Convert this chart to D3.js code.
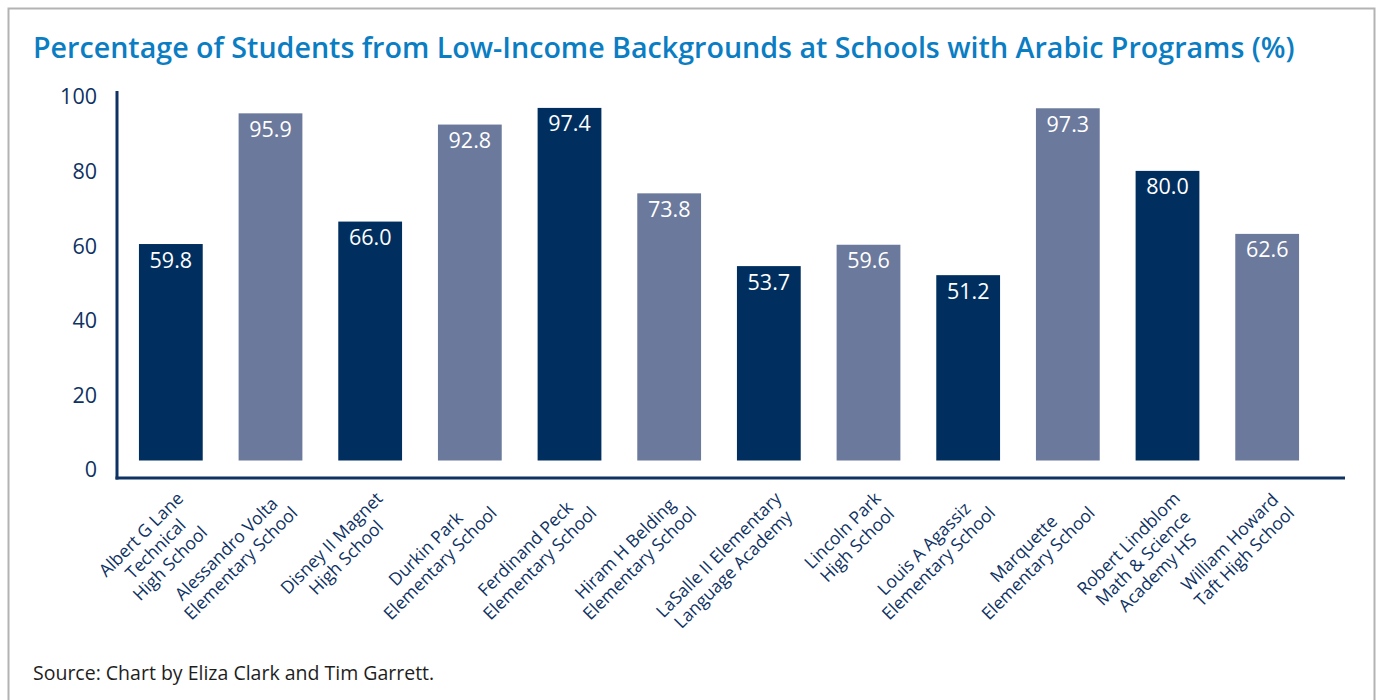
<!DOCTYPE html>
<html>
<head>
<meta charset="utf-8">
<script src="https://cdn.jsdelivr.net/npm/d3@7"></script>
<style>
  body { margin: 0; background: #fff; }
  svg { display: block; font-family: "Open Sans", "Noto Sans", sans-serif; }
</style>
</head>
<body>
<svg id="chart" width="1380" height="700"></svg>
<script>
// data
const schools = [
    ["Albert G Lane", "Technical", "High School"],
    ["Alessandro Volta", "Elementary School"],
    ["Disney II Magnet", "High School"],
    ["Durkin Park", "Elementary School"],
    ["Ferdinand Peck", "Elementary School"],
    ["Hiram H Belding", "Elementary School"],
    ["LaSalle II Elementary", "Language Academy"],
    ["Lincoln Park", "High School"],
    ["Louis A Agassiz", "Elementary School"],
    ["Marquette", "Elementary School"],
    ["Robert Lindblom", "Math & Science", "Academy HS"],
    ["William Howard", "Taft High School"]
];
const lowIncomePct = [59.8, 95.9, 66.0, 92.8, 97.4, 73.8, 53.7, 59.6, 51.2, 97.3, 80.0, 62.6];
const yTicks = [0, 20, 40, 60, 80, 100];

const titleText = "Percentage of Students from Low-Income Backgrounds at Schools with Arabic Programs (%)";
const sourceText = "Source: Chart by Eliza Clark and Tim Garrett.";

const navy = "#002f5f";
const slate = "#6b799c";
const axisColor = "#0e3263";

const svg = d3.select("#chart");

// frame
svg.append("rect")
    .attr("x", 8.5).attr("y", 8.5)
    .attr("width", 1366).attr("height", 720)
    .attr("fill", "none")
    .attr("stroke", "#b3b3b3")
    .attr("stroke-width", 2);

// title, fitted to the reference width
const title = svg.append("text")
    .attr("x", 33).attr("y", 58)
    .attr("fill", "#0a7dc3")
    .attr("font-size", 28)
    .attr("font-weight", 600)
    .text(titleText);
const tw = title.node().getComputedTextLength();
title.attr("font-size", 28 * 1262 / tw);

// scales
const ids = schools.map((d, i) => i);
const x = d3.scaleBand().domain(ids).range([121, 1317]).paddingInner(0.36).paddingOuter(0.18);
const y = d3.scaleLinear().domain([0, 100]).range([460.5, 98.5]);
const yLabel = d3.scaleLinear().domain([0, 100]).range([470, 97]);

// y tick labels
const yAxis = svg.append("g")
    .attr("transform", "translate(97,0)")
    .call(d3.axisLeft(yLabel).tickValues(yTicks).tickSize(0).tickPadding(0));
yAxis.select(".domain").remove();
yAxis.selectAll("text")
    .attr("font-family", "'Open Sans', sans-serif")
    .attr("font-size", 21.5)
    .attr("fill", axisColor);

// bars
svg.append("g")
    .selectAll("rect")
    .data(lowIncomePct)
    .join("rect")
    .attr("x", (d, i) => x(i))
    .attr("y", d => y(d))
    .attr("width", x.bandwidth())
    .attr("height", d => y(0) - y(d))
    .attr("fill", (d, i) => i % 2 === 0 ? navy : slate);

// value labels
svg.append("g")
    .selectAll("text")
    .data(lowIncomePct)
    .join("text")
    .attr("x", (d, i) => x(i) + x.bandwidth() / 2)
    .attr("y", d => y(d) + 23.5)
    .attr("text-anchor", "middle")
    .attr("fill", "#fff")
    .attr("font-size", 21.5)
    .text(d => d.toFixed(1));

// axis lines
svg.append("line")
    .attr("x1", 117).attr("x2", 117)
    .attr("y1", 91).attr("y2", 479.5)
    .attr("stroke", axisColor).attr("stroke-width", 3);
svg.append("line")
    .attr("x1", 115.5).attr("x2", 1345)
    .attr("y1", 478).attr("y2", 478)
    .attr("stroke", axisColor).attr("stroke-width", 3);

// x labels: rotated, lines centred, block's top-right at the tick
const lineH = 20.5;
const xl = svg.append("g")
    .selectAll("g")
    .data(schools)
    .join("g")
    .attr("transform", (d, i) => `translate(${x(i) + x.bandwidth() / 2 + 3},489) rotate(-45)`);

xl.each(function(lines) {
    const g = d3.select(this);
    const texts = lines.map((t, k) => g.append("text")
        .attr("y", 15 + k * lineH)
        .attr("text-anchor", "middle")
        .attr("font-size", 17.5)
        .attr("fill", axisColor)
        .text(t));
    const maxW = d3.max(texts, t => t.node().getComputedTextLength());
    texts.forEach(t => t.attr("x", -maxW / 2));
});

// source
svg.append("text")
    .attr("x", 33).attr("y", 680)
    .attr("font-size", 19.5)
    .attr("fill", "#1e1e1e")
    .text(sourceText);
</script>
</body>
</html>
